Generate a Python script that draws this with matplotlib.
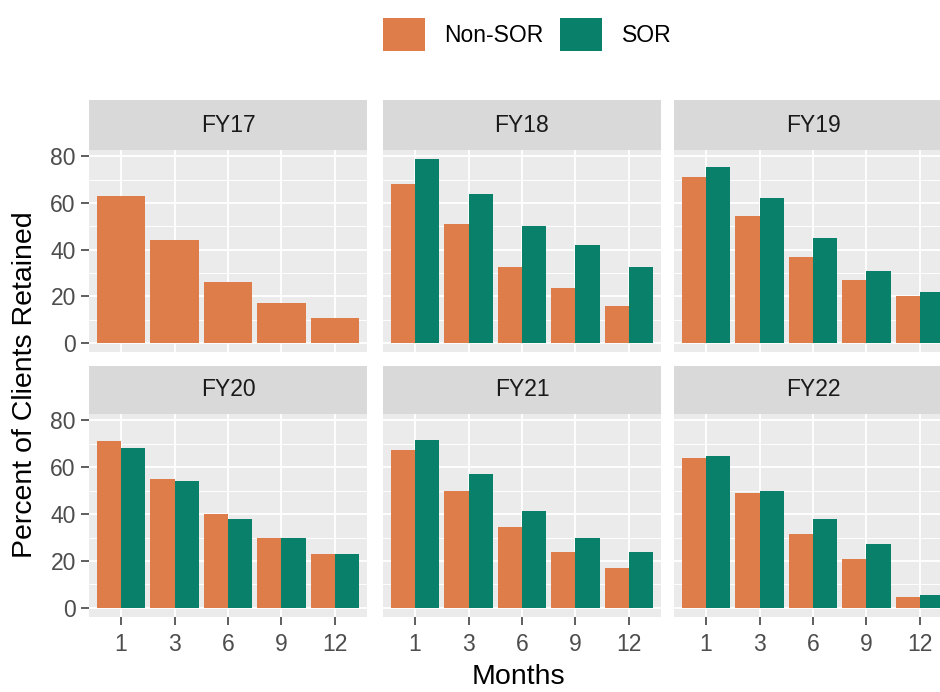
import matplotlib
matplotlib.use("Agg")
import matplotlib.pyplot as plt
import numpy as np
from matplotlib.patches import Patch

plt.rcParams['font.family'] = ['Liberation Sans', 'DejaVu Sans']

# ---- data -------------------------------------------------------------
months = ["1", "3", "6", "9", "12"]
years = ["FY17", "FY18", "FY19", "FY20", "FY21", "FY22"]

non_sor_fy17 = [63.0, 44.0, 26.0, 17.0, 10.5]
non_sor_fy18 = [68.0, 51.0, 32.5, 23.5, 15.7]
non_sor_fy19 = [71.0, 54.5, 37.0, 27.0, 20.0]
non_sor_fy20 = [71.0, 55.0, 40.0, 29.7, 23.0]
non_sor_fy21 = [67.5, 50.0, 34.3, 23.8, 16.8]
non_sor_fy22 = [64.0, 49.0, 31.7, 21.0, 4.6]

sor_fy18 = [78.8, 64.0, 50.0, 42.0, 32.5]
sor_fy19 = [75.5, 62.3, 45.0, 30.8, 22.0]
sor_fy20 = [68.2, 54.0, 37.8, 29.7, 23.0]
sor_fy21 = [71.8, 57.0, 41.2, 29.7, 23.7]
sor_fy22 = [64.8, 49.8, 37.8, 27.3, 5.4]

non_sor = dict(zip(years, [non_sor_fy17, non_sor_fy18, non_sor_fy19,
                           non_sor_fy20, non_sor_fy21, non_sor_fy22]))
sor = dict(zip(years, [None, sor_fy18, sor_fy19, sor_fy20, sor_fy21, sor_fy22]))

ORANGE = "#DE7C4A"
GREEN = "#08806A"

# ---- layout (pixels) -----------------------------------------------------
W, H = 940, 692
fig = plt.figure(figsize=(W / 100, H / 100), dpi=100)


def fx(px):
    return px / W


def fy(py):
    return 1 - py / H


col_left = [89, 383, 674]
panel_w = 278
rows = [(100, 150, 352), (366, 414, 617)]  # strip top, panel top, panel bottom

ymax = max(max(v) for v in non_sor.values())
ymax = max(ymax, max(max(v) for v in sor.values() if v is not None))
ylo, yhi = -0.05 * ymax, 1.05 * ymax

x = np.arange(len(months))
TICK_FS = 16.5

for i, yr in enumerate(years):
    r, c = divmod(i, 3)
    st, pt, pb = rows[r]
    left = col_left[c]

    ax = fig.add_axes([fx(left), fy(pb), panel_w / W, (pb - pt) / H])
    ax.set_facecolor("#EBEBEB")
    for s in ax.spines.values():
        s.set_visible(False)
    ax.set_axisbelow(True)

    ax.set_xlim(-0.6, len(months) - 0.4)
    ax.set_ylim(ylo, yhi)
    ax.set_yticks([0, 20, 40, 60, 80])
    ax.set_yticks([10, 30, 50, 70], minor=True)
    ax.set_xticks(x)
    ax.grid(which="major", color="white", linewidth=1.3)
    ax.yaxis.grid(which="minor", color="white", linewidth=0.65)

    if sor[yr] is None:
        ax.bar(x, non_sor[yr], width=0.9, color=ORANGE, linewidth=0)
    else:
        ax.bar(x - 0.225, non_sor[yr], width=0.45, color=ORANGE, linewidth=0)
        ax.bar(x + 0.225, sor[yr], width=0.45, color=GREEN, linewidth=0)

    ax.tick_params(axis="both", which="minor", length=0)
    if c == 0:
        ax.tick_params(axis="y", which="major", length=5.5, width=1.1,
                       color="#333333", labelcolor="#4D4D4D",
                       labelsize=TICK_FS, pad=4)
    else:
        ax.tick_params(axis="y", which="major", length=0, labelleft=False)
    if r == 1:
        ax.set_xticklabels(months)
        ax.tick_params(axis="x", which="major", length=5.5, width=1.1,
                       color="#333333", labelcolor="#4D4D4D",
                       labelsize=TICK_FS, pad=6)
    else:
        ax.tick_params(axis="x", which="major", length=0, labelbottom=False)

    strip = fig.add_axes([fx(left), fy(pt), panel_w / W, (pt - st) / H])
    strip.set_facecolor("#D9D9D9")
    strip.set_xticks([])
    strip.set_yticks([])
    for s in strip.spines.values():
        s.set_visible(False)
    strip.text(0.5, 0.5, yr, ha="center", va="center", fontsize=TICK_FS,
               color="#1A1A1A", transform=strip.transAxes)

# axis titles
fig.text(fx(518), fy(677), "Months", ha="center", va="center",
         fontsize=20.5, color="black")
fig.text(fx(25), fy(385), "Percent of Clients Retained", ha="center",
         va="center", rotation=90, fontsize=20.5, color="black")

# legend
handles = [Patch(facecolor=ORANGE, label="Non-SOR"),
           Patch(facecolor=GREEN, label="SOR")]
fig.legend(handles=handles, loc="center", bbox_to_anchor=(fx(527), fy(34.5)),
           ncol=2, frameon=False, fontsize=TICK_FS, handlelength=1.85,
           handleheight=1.9, handletextpad=0.85, columnspacing=0.7,
           borderpad=0, borderaxespad=0)

fig.savefig("out.png", dpi=100)
